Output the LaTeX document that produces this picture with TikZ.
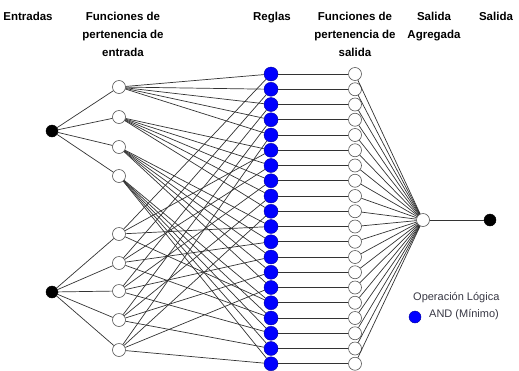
\documentclass[tikz,border=0pt]{standalone}
\usepackage{fontspec}
\setmainfont{Liberation Sans}
\usetikzlibrary{positioning}
\definecolor{ruleblue}{HTML}{0000FF}
\definecolor{edgegray}{HTML}{333333}
\definecolor{legendgray}{HTML}{383844}

\begin{document}
\begin{tikzpicture}[x=1pt,y=-1pt,
 inp/.style={circle,fill=black,draw=black,minimum size=12pt,inner sep=0pt},
 mf/.style={circle,fill=white,draw=black!65,line width=0.6pt,minimum size=13pt,inner sep=0pt},
 rulenode/.style={circle,fill=ruleblue,draw=ruleblue!60!black,line width=0.4pt,minimum size=14pt,inner sep=0pt},
 head/.style={align=center,anchor=north,inner sep=0pt,font=\fontsize{11.5}{18}\selectfont\bfseries},
 legend/.style={anchor=base west,inner sep=0pt,text=legendgray,font=\fontsize{11}{12}\selectfont},
 e/.style={line width=0.7pt,edgegray}]
\useasboundingbox (0,0) rectangle (519,370);

% cabeceras
\node[head] (h1) at (28,12) {Entradas};
\node[head] (h2) at (123,12) {Funciones de\\pertenencia de\\entrada};
\node[head] (h3) at (272,12) {Reglas};
\node[head] (h4) at (355,12) {Funciones de\\pertenencia de\\salida};
\node[head] (h5) at (434,12) {Salida\\Agregada};
\node[head] (h6) at (496,12) {Salida};

% entradas y funciones de pertenencia
\node[inp] (x1) at (52,131) {};
\node[inp] (x2) at (52,292) {};
\foreach \y [count=\i] in {87,117,147,176}
  \node[mf] (a\i) at (119,\y) {};
\foreach \y [count=\j] in {234,263,291,320,350}
  \node[mf] (b\j) at (119,\y) {};

% reglas y salidas
\foreach \k in {1,...,20} {
  \node[rulenode] (r\k) at (271,{74+(\k-1)*15.25}) {};
  \node[mf] (o\k) at (355,{74+(\k-1)*15.25}) {};
}
\node[mf] (agg) at (423,220) {};
\node[inp] (y) at (490,220) {};

% conexiones
\foreach \i in {1,...,4} \draw[e] (x1)--(a\i);
\foreach \j in {1,...,5} \draw[e] (x2)--(b\j);
\foreach \i in {1,...,4} \foreach \j in {1,...,5} {
  \pgfmathtruncatemacro\r{(\i-1)*5+\j}
  \draw[e] (a\i)--(r\r); \draw[e] (b\j)--(r\r);
}
\foreach \k in {1,...,20} {
  \draw[e] (r\k)--(o\k); \draw[e] (o\k)--(agg);
}
\draw[e] (agg)--(y);

% leyenda
\node[legend] (lg1) at (413,300.5) {Operación Lógica};
\node[rulenode,minimum size=12pt] (lgdot) at (415,317) {};
\node[legend] (lg2) at (429,317.5) {AND (Mínimo)};
\end{tikzpicture}
\end{document}
